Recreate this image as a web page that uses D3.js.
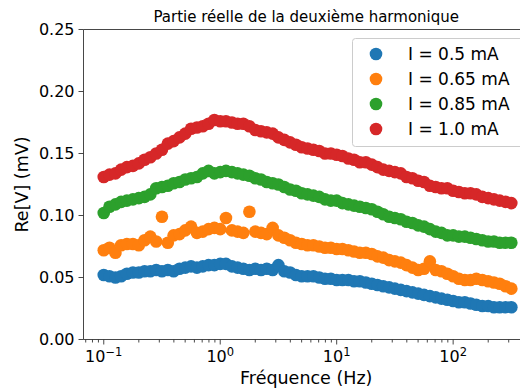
<!DOCTYPE html>
<html><head><meta charset="utf-8">
<script src="https://cdn.jsdelivr.net/npm/d3@7"></script>
<style>body{margin:0;background:#fff}svg{display:block}text{font-family:"DejaVu Sans",sans-serif;fill:#000}</style>
</head><body><svg id="c" width="520" height="389"></svg>
<script>
const freqs = [0.1,0.112,0.126,0.141,0.158,0.178,0.2,0.224,0.251,0.282,0.316,0.355,0.398,0.447,0.501,0.562,0.631,0.708,0.794,0.891,
1.0,1.12,1.26,1.41,1.58,1.78,2.0,2.24,2.51,2.82,3.16,3.55,3.98,4.47,5.01,5.62,6.31,7.08,7.94,8.91,
10,11.2,12.6,14.1,15.8,17.8,20,22.4,25.1,28.2,31.6,35.5,39.8,44.7,50.1,56.2,63.1,70.8,79.4,89.1,
100,112,126,141,158,178,200,224,251,282,316];
const i05 = [0.052,0.051,0.050,0.051,0.053,0.054,0.054,0.055,0.055,0.056,0.055,0.056,0.055,0.057,0.058,0.059,0.058,0.059,0.060,0.060,
0.061,0.061,0.059,0.058,0.057,0.056,0.057,0.056,0.057,0.056,0.060,0.055,0.054,0.052,0.051,0.051,0.051,0.050,0.049,0.049,
0.048,0.048,0.048,0.047,0.047,0.046,0.045,0.044,0.043,0.042,0.041,0.040,0.039,0.038,0.037,0.036,0.035,0.034,0.033,0.032,
0.031,0.030,0.030,0.029,0.028,0.027,0.027,0.026,0.026,0.026,0.026];
const i065 = [0.072,0.074,0.070,0.076,0.077,0.077,0.076,0.080,0.083,0.079,0.099,0.078,0.084,0.085,0.088,0.091,0.086,0.087,0.089,0.090,
0.089,0.098,0.088,0.087,0.086,0.103,0.087,0.086,0.085,0.090,0.084,0.082,0.080,0.078,0.077,0.076,0.076,0.075,0.074,0.074,
0.073,0.073,0.072,0.071,0.070,0.070,0.069,0.067,0.066,0.064,0.063,0.062,0.060,0.058,0.056,0.057,0.063,0.056,0.055,0.053,
0.051,0.049,0.048,0.048,0.049,0.048,0.047,0.046,0.045,0.043,0.041];
const i085 = [0.102,0.107,0.109,0.111,0.112,0.113,0.114,0.115,0.117,0.122,0.123,0.124,0.126,0.127,0.129,0.130,0.131,0.134,0.136,0.134,
0.135,0.136,0.135,0.134,0.133,0.132,0.130,0.129,0.127,0.126,0.125,0.123,0.121,0.120,0.118,0.117,0.116,0.115,0.113,0.112,
0.112,0.110,0.109,0.108,0.107,0.106,0.105,0.103,0.101,0.099,0.098,0.097,0.095,0.094,0.092,0.091,0.089,0.087,0.086,0.084,
0.084,0.083,0.083,0.082,0.081,0.080,0.079,0.079,0.078,0.078,0.078];
const i10 = [0.131,0.133,0.134,0.137,0.139,0.140,0.142,0.145,0.147,0.150,0.153,0.158,0.160,0.163,0.166,0.170,0.171,0.172,0.174,0.177,
0.176,0.176,0.175,0.174,0.174,0.172,0.169,0.168,0.167,0.166,0.163,0.161,0.159,0.157,0.155,0.154,0.153,0.152,0.150,0.150,
0.149,0.148,0.146,0.145,0.143,0.143,0.141,0.139,0.137,0.136,0.135,0.134,0.131,0.130,0.128,0.127,0.124,0.123,0.122,0.122,
0.120,0.119,0.118,0.118,0.117,0.115,0.114,0.113,0.112,0.111,0.110];
const seriesLabels = ["I = 0.5 mA","I = 0.65 mA","I = 0.85 mA","I = 1.0 mA"];
const seriesColors = ["#1f77b4","#ff7f0e","#2ca02c","#d62728"];
const seriesValues = [i05,i065,i085,i10];
const yTicks = [0,0.05,0.10,0.15,0.20,0.25];
const xMajor = [-1,0,1,2];
const title = "Partie réelle de la deuxième harmonique";
const xLabel = "Fréquence (Hz)";
const yLabel = "Re[V] (mV)";

const L=83.5,R=529,T=29.5,B=339.5;
const svg=d3.select("#c");
const x=d3.scaleLog().domain([0.067,448]).range([L,R]);
const y=d3.scaleLinear().domain([0,0.25]).range([B,T]);

// points
seriesValues.forEach((vals,si)=>{
  svg.append("g").selectAll("circle").data(vals).join("circle")
    .attr("cx",(d,i)=>x(freqs[i])).attr("cy",d=>y(d)).attr("r",6.3)
    .attr("fill",seriesColors[si]);
});

// spines
const ax=svg.append("g").attr("stroke","#333").attr("stroke-width",0.9).attr("fill","none");
ax.append("line").attr("x1",L).attr("x2",L).attr("y1",T).attr("y2",B);
ax.append("line").attr("x1",L).attr("x2",R).attr("y1",B).attr("y2",B);
ax.append("line").attr("x1",L).attr("x2",R).attr("y1",T).attr("y2",T);

// y ticks
yTicks.forEach(v=>{
  const yy=y(v);
  ax.append("line").attr("x1",L-5).attr("x2",L).attr("y1",yy).attr("y2",yy);
  svg.append("text").attr("x",L-9).attr("y",yy).attr("dy","0.36em").attr("text-anchor","end")
    .style("font-size","16px").text(v.toFixed(2));
});
// x ticks
const dom=x.domain();
for(let e=-2;e<=3;e++){
  for(let m=1;m<10;m++){
    const f=m*Math.pow(10,e);
    if(f<dom[0]||f>dom[1])continue;
    const xx=x(f);
    ax.append("line").attr("x1",xx).attr("x2",xx).attr("y1",B).attr("y2",B+(m===1?5:3));
  }
}
xMajor.forEach(e=>{
  const t=svg.append("text").attr("x",x(Math.pow(10,e))).attr("y",B+22).attr("text-anchor","middle").style("font-size","16px");
  t.append("tspan").text("10");
  t.append("tspan").attr("dy","-0.45em").style("font-size","11.5px").text(e<0?"\u2212"+(-e):String(e));
});
// labels
svg.append("text").attr("x",(L+R)/2).attr("y",22).attr("text-anchor","middle").style("font-size","15px").text(title);
svg.append("text").attr("x",(L+R)/2).attr("y",384).attr("text-anchor","middle").style("font-size","17.5px").text(xLabel);
svg.append("text").attr("transform",`translate(28,${(T+B)/2}) rotate(-90)`).attr("text-anchor","middle").style("font-size","17.5px").text(yLabel);

// legend
const lg=svg.append("g");
lg.append("rect").attr("x",352.5).attr("y",38.5).attr("width",200).attr("height",108).attr("rx",3)
  .attr("fill","#fff").attr("fill-opacity",0.8).attr("stroke","#ccc");
seriesLabels.forEach((s,i)=>{
  const yy=54+i*25;
  lg.append("circle").attr("cx",376).attr("cy",yy).attr("r",6.3).attr("fill",seriesColors[i]);
  lg.append("text").attr("x",408).attr("y",yy).attr("dy","0.36em").style("font-size","17px").text(s);
});
</script></body></html>
